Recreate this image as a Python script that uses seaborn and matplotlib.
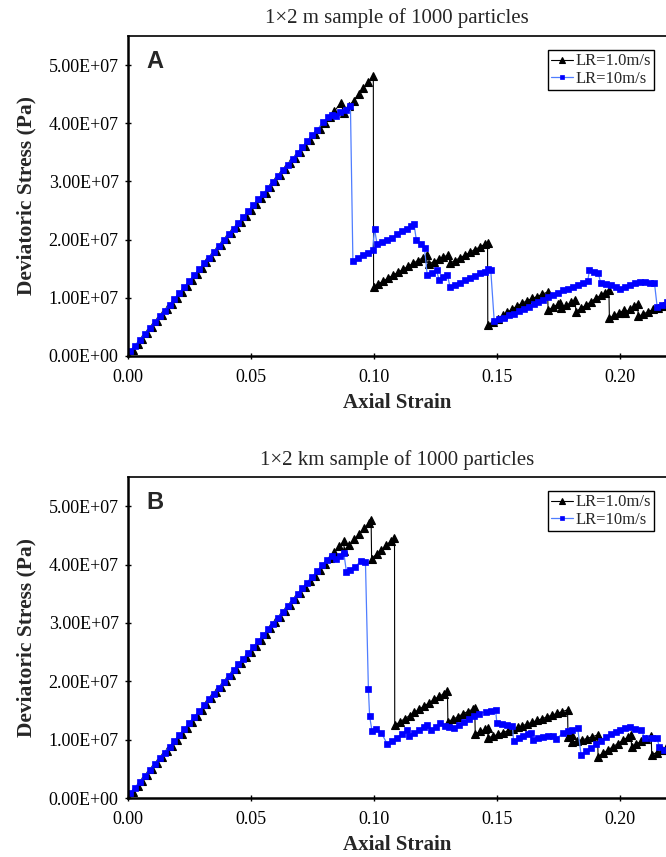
import numpy as np
import pandas as pd
import matplotlib
matplotlib.use("Agg")
import matplotlib.pyplot as plt
from matplotlib.ticker import FuncFormatter, FixedLocator
import seaborn as sns

# ---------------- data (stress in units of 1E+07 Pa) ----------------
# shared elastic ramp of the slow loading rate (black)
ramp_slow_strain = [0.000, 0.002, 0.004, 0.006, 0.008, 0.010, 0.012, 0.014, 0.016, 0.018,
                    0.020, 0.022, 0.024, 0.026, 0.028, 0.030, 0.032, 0.034, 0.036, 0.038,
                    0.040, 0.042, 0.044, 0.046, 0.048, 0.050, 0.052, 0.054, 0.056, 0.058,
                    0.060, 0.062, 0.064, 0.066, 0.068, 0.070, 0.072, 0.074, 0.076, 0.078,
                    0.080, 0.082, 0.084]
ramp_slow_stress = [0.00, 0.10, 0.20, 0.30, 0.40, 0.50, 0.60, 0.70, 0.80, 0.90,
                    1.00, 1.10, 1.20, 1.31, 1.41, 1.51, 1.61, 1.71, 1.81, 1.91,
                    2.01, 2.11, 2.21, 2.31, 2.41, 2.51, 2.61, 2.71, 2.81, 2.91,
                    3.01, 3.11, 3.21, 3.31, 3.41, 3.51, 3.61, 3.71, 3.81, 3.91,
                    4.01, 4.11, 4.21]
# shared elastic ramp of the fast loading rate (blue)
ramp_fast_strain = [0.001, 0.003, 0.005, 0.007, 0.009, 0.011, 0.013, 0.015, 0.017, 0.019,
                    0.021, 0.023, 0.025, 0.027, 0.029, 0.031, 0.033, 0.035, 0.037, 0.039,
                    0.041, 0.043, 0.045, 0.047, 0.049, 0.051, 0.053, 0.055, 0.057, 0.059,
                    0.061, 0.063, 0.065, 0.067, 0.069, 0.071, 0.073, 0.075, 0.077]
ramp_fast_stress = [0.08, 0.18, 0.28, 0.38, 0.48, 0.58, 0.68, 0.78, 0.88, 0.98,
                    1.08, 1.18, 1.29, 1.39, 1.49, 1.59, 1.69, 1.79, 1.89, 1.99,
                    2.09, 2.19, 2.29, 2.39, 2.49, 2.59, 2.69, 2.79, 2.89, 2.99,
                    3.09, 3.19, 3.29, 3.39, 3.49, 3.59, 3.69, 3.79, 3.89]

# Panel A (1x2 m), LR = 1.0 m/s, after the ramp
a_slow_strain = [0.0866, 0.0878, 0.0898, 0.0918, 0.0938, 0.0958, 0.0978, 0.0998,
                 0.0999, 0.1019, 0.1039, 0.1059, 0.1079, 0.1099, 0.1119, 0.1139, 0.1159, 0.1179, 0.1199, 0.1217,
                 0.1223, 0.1243, 0.1263, 0.1283, 0.1303,
                 0.1310, 0.1330, 0.1350, 0.1370, 0.1390, 0.1410, 0.1430, 0.1450, 0.1462,
                 0.1463, 0.1483, 0.1503, 0.1523, 0.1543, 0.1563, 0.1583, 0.1603, 0.1623, 0.1643, 0.1663, 0.1683, 0.1706,
                 0.1708, 0.1728, 0.1748, 0.1758,
                 0.1762, 0.1782, 0.1802, 0.1818,
                 0.1821, 0.1841, 0.1861, 0.1881, 0.1901, 0.1921, 0.1941, 0.1955,
                 0.1957, 0.1977, 0.1997, 0.2017,
                 0.2019, 0.2039, 0.2059, 0.2072,
                 0.2074, 0.2094, 0.2114, 0.2134, 0.2154, 0.2174, 0.2194]
a_slow_stress = [4.35, 4.18, 4.29, 4.39, 4.50, 4.60, 4.71, 4.82,
                 1.19, 1.24, 1.29, 1.34, 1.39, 1.44, 1.49, 1.54, 1.59, 1.64, 1.69, 1.74,
                 1.58, 1.62, 1.66, 1.70, 1.74,
                 1.60, 1.64, 1.69, 1.73, 1.78, 1.83, 1.87, 1.92, 1.95,
                 0.53, 0.59, 0.64, 0.70, 0.75, 0.81, 0.86, 0.91, 0.95, 0.99, 1.02, 1.06, 1.10,
                 0.79, 0.84, 0.89, 0.91,
                 0.82, 0.87, 0.92, 0.96,
                 0.76, 0.82, 0.87, 0.93, 0.99, 1.04, 1.09, 1.13,
                 0.65, 0.70, 0.74, 0.79,
                 0.74, 0.80, 0.86, 0.90,
                 0.68, 0.72, 0.76, 0.80, 0.83, 0.86, 0.90]

# Panel A, LR = 10 m/s, after the ramp
a_fast_strain = [0.0795, 0.0815, 0.0830, 0.0845, 0.0864, 0.0885, 0.0905,
                 0.0915, 0.0935, 0.0955, 0.0975, 0.0995, 0.1003, 0.1013, 0.1033, 0.1053, 0.1073,
                 0.1093, 0.1113, 0.1133, 0.1153, 0.1163, 0.1173, 0.1190, 0.1206,
                 0.1217, 0.1235, 0.1255, 0.1265, 0.1282, 0.1299,
                 0.1310, 0.1330, 0.1350, 0.1370, 0.1390, 0.1410, 0.1430, 0.1450, 0.1465, 0.1475,
                 0.1489, 0.1509, 0.1529, 0.1549, 0.1569, 0.1589, 0.1609, 0.1629, 0.1649, 0.1669,
                 0.1689, 0.1709, 0.1729, 0.1749, 0.1769, 0.1789, 0.1809, 0.1829, 0.1849, 0.1869,
                 0.1876, 0.1896, 0.1912, 0.1922, 0.1942, 0.1962, 0.1982, 0.2002, 0.2022, 0.2042,
                 0.2062, 0.2082, 0.2102, 0.2122, 0.2140, 0.2151, 0.2171, 0.2191]
a_fast_stress = [4.02, 4.10, 4.14, 4.12, 4.20, 4.23, 4.29,
                 1.64, 1.69, 1.73, 1.77, 1.82, 2.19, 1.92, 1.96, 2.00, 2.03,
                 2.09, 2.14, 2.19, 2.23, 2.27, 1.99, 1.92, 1.85,
                 1.39, 1.42, 1.47, 1.31, 1.36, 1.39,
                 1.18, 1.22, 1.26, 1.30, 1.34, 1.38, 1.42, 1.45, 1.49, 1.48,
                 0.61, 0.63, 0.66, 0.70, 0.73, 0.77, 0.81, 0.85, 0.89, 0.93,
                 0.97, 1.01, 1.05, 1.09, 1.13, 1.16, 1.19, 1.22, 1.25, 1.29,
                 1.47, 1.44, 1.42, 1.25, 1.23, 1.22, 1.19, 1.15, 1.19, 1.22,
                 1.25, 1.27, 1.27, 1.26, 1.26, 0.85, 0.88, 0.93]

# Panel B (1x2 km), LR = 1.0 m/s, after the ramp
b_slow_strain = [0.0860, 0.0878, 0.0880, 0.0900, 0.0920, 0.0940, 0.0960, 0.0980, 0.0989,
                 0.0991, 0.1011, 0.1031, 0.1051, 0.1071, 0.1084,
                 0.1085, 0.1105, 0.1125, 0.1145, 0.1165, 0.1185, 0.1205, 0.1225, 0.1245, 0.1265, 0.1285, 0.1299,
                 0.1301, 0.1321, 0.1341, 0.1361, 0.1381, 0.1401, 0.1410,
                 0.1412, 0.1432, 0.1452, 0.1462,
                 0.1464, 0.1484, 0.1504, 0.1524, 0.1544, 0.1564, 0.1584, 0.1604, 0.1624, 0.1644,
                 0.1664, 0.1684, 0.1704, 0.1724, 0.1744, 0.1764, 0.1787,
                 0.1789, 0.1805, 0.1807, 0.1827, 0.1847, 0.1867, 0.1887, 0.1909,
                 0.1911, 0.1931, 0.1951, 0.1971, 0.1991, 0.2011, 0.2031, 0.2045,
                 0.2047, 0.2067, 0.2087, 0.2107, 0.2127,
                 0.2129, 0.2149, 0.2169, 0.2189]
b_slow_stress = [4.31, 4.40, 4.23, 4.33, 4.43, 4.52, 4.62, 4.71, 4.76,
                 4.10, 4.18, 4.25, 4.33, 4.41, 4.46,
                 1.25, 1.30, 1.36, 1.41, 1.47, 1.52, 1.58, 1.63, 1.69, 1.74, 1.79, 1.83,
                 1.31, 1.35, 1.39, 1.44, 1.48, 1.52, 1.54,
                 1.10, 1.14, 1.18, 1.20,
                 1.03, 1.06, 1.09, 1.12, 1.15, 1.18, 1.21, 1.24, 1.27, 1.30,
                 1.33, 1.36, 1.39, 1.42, 1.45, 1.48, 1.51,
                 1.05, 1.08, 0.96, 0.98, 1.00, 1.02, 1.05, 1.08,
                 0.71, 0.77, 0.82, 0.88, 0.93, 0.99, 1.04, 1.08,
                 0.88, 0.93, 0.97, 1.02, 1.07,
                 0.74, 0.78, 0.82, 0.86]

# Panel B, LR = 10 m/s, after the ramp
b_fast_strain = [0.0790, 0.0810, 0.0830, 0.0848, 0.0862, 0.0878,
                 0.0889, 0.0905, 0.0925, 0.0946, 0.0966,
                 0.0978, 0.0983, 0.0993, 0.1010, 0.1030, 0.1054, 0.1074, 0.1094, 0.1114, 0.1133,
                 0.1143, 0.1163, 0.1183, 0.1203, 0.1217, 0.1231, 0.1251, 0.1269, 0.1289, 0.1305,
                 0.1325, 0.1345, 0.1365, 0.1385, 0.1406, 0.1426, 0.1455, 0.1475, 0.1495,
                 0.1500, 0.1520, 0.1540, 0.1563, 0.1568, 0.1588, 0.1608, 0.1628, 0.1638,
                 0.1648, 0.1668, 0.1688, 0.1708, 0.1726, 0.1740, 0.1767, 0.1787, 0.1807, 0.1828,
                 0.1842, 0.1862, 0.1882, 0.1902, 0.1922, 0.1942, 0.1962, 0.1982, 0.2002, 0.2022,
                 0.2042, 0.2062, 0.2086, 0.2100, 0.2130, 0.2150, 0.2160, 0.2180]
b_fast_stress = [3.99, 4.08, 4.15, 4.09, 4.15, 4.20,
                 3.87, 3.91, 3.96, 4.06, 4.04,
                 1.86, 1.40, 1.14, 1.18, 1.12, 0.93, 0.98, 1.03, 1.10, 1.16,
                 1.07, 1.12, 1.16, 1.21, 1.25, 1.17, 1.22, 1.28, 1.23, 1.21,
                 1.20, 1.25, 1.30, 1.35, 1.41, 1.44, 1.48, 1.49, 1.50,
                 1.28, 1.26, 1.25, 1.24, 0.97, 1.03, 1.07, 1.10, 1.11,
                 1.00, 1.03, 1.05, 1.06, 1.07, 1.01, 1.11, 1.14, 1.17, 1.20,
                 0.74, 0.80, 0.86, 0.92, 0.98, 1.04, 1.09, 1.13, 1.17, 1.20,
                 1.21, 1.19, 1.17, 1.03, 1.03, 1.03, 0.88, 0.82]

titles = ["1\u00d72 m sample of 1000 particles", "1\u00d72 km sample of 1000 particles"]
panel_letters = ["A", "B"]
series_labels = ["LR=1.0m/s", "LR=10m/s"]
x_ticks = [0.00, 0.05, 0.10, 0.15, 0.20]
y_ticks = [0.0, 1.0e7, 2.0e7, 3.0e7, 4.0e7, 5.0e7]
UNIT = 1e7

# ---------------- style ----------------
sns.set_style("white")
plt.rcParams["font.family"] = ["Liberation Serif", "DejaVu Serif"]
plt.rcParams["mathtext.fontset"] = "stix"

fig = plt.figure(figsize=(6.66, 8.57), dpi=100)
ax_a = fig.add_axes([0.1917, 0.5846, 1.0 - 0.1917, 0.3734])
ax_b = fig.add_axes([0.1917, 0.0688, 1.0 - 0.1917, 0.3746])

panels = [
    (ax_a, a_slow_strain, a_slow_stress, a_fast_strain, a_fast_stress),
    (ax_b, b_slow_strain, b_slow_stress, b_fast_strain, b_fast_stress),
]

for i, (ax, ss, sy, fs, fy) in enumerate(panels):
    slow = pd.DataFrame({"strain": ramp_slow_strain + ss,
                         "stress": np.array(ramp_slow_stress + sy) * UNIT})
    fast = pd.DataFrame({"strain": ramp_fast_strain + fs,
                         "stress": np.array(ramp_fast_stress + fy) * UNIT})
    sns.lineplot(data=slow, x="strain", y="stress", ax=ax, sort=False, estimator=None,
                 color="black", linewidth=0.8, marker="^", markersize=6.2,
                 markerfacecolor="black", markeredgecolor="black", markeredgewidth=0.8,
                 label=series_labels[0])
    sns.lineplot(data=fast, x="strain", y="stress", ax=ax, sort=False, estimator=None,
                 color="#4f7dff", linewidth=0.9, marker="s", markersize=3.9,
                 markerfacecolor="#0000ff", markeredgecolor="#0000ff", markeredgewidth=0.5,
                 label=series_labels[1])

    ax.set_xlim(0, 0.2187)
    ax.set_ylim(0, 5.5e7)
    ax.xaxis.set_major_locator(FixedLocator(x_ticks))
    ax.yaxis.set_major_locator(FixedLocator(y_ticks))
    ax.xaxis.set_major_formatter(FuncFormatter(lambda v, p: f"{v:.2f}"))
    ax.yaxis.set_major_formatter(FuncFormatter(lambda v, p: f"{v:.2E}"))
    ax.tick_params(axis="both", which="major", labelsize=13, direction="inout",
                   length=5, width=1.0, color="black", labelcolor="black", pad=4)
    ax.tick_params(axis="x", bottom=True, top=False, pad=7)
    ax.tick_params(axis="y", left=True, right=False)

    for side in ["left", "bottom"]:
        ax.spines[side].set_color("black")
        ax.spines[side].set_linewidth(1.8)
    ax.spines["top"].set_color("black")
    ax.spines["top"].set_linewidth(1.2)
    ax.spines["right"].set_visible(False)

    ax.set_xlabel("Axial Strain", fontsize=15, fontweight="bold", labelpad=5)
    ax.set_ylabel("Deviatoric Stress (Pa)", fontsize=15.5, fontweight="bold", labelpad=9)
    ax.set_title(titles[i], fontsize=15, pad=9)

    ax.text(0.035, 0.955, panel_letters[i], transform=ax.transAxes, ha="left", va="top",
            fontsize=17, fontweight="bold", family="Liberation Sans")

    leg = ax.legend(loc="upper right", bbox_to_anchor=(0.978, 0.956), borderaxespad=0,
                    fontsize=12, frameon=True, fancybox=False, shadow=False,
                    handlelength=1.3, handletextpad=0.15, borderpad=0.2,
                    labelspacing=0.1, markerscale=0.6)
    leg.get_frame().set_edgecolor("black")
    leg.get_frame().set_linewidth(1.0)
    leg.get_frame().set_facecolor("white")
    leg.get_frame().set_alpha(1.0)

fig.savefig("out.png", dpi=100)
